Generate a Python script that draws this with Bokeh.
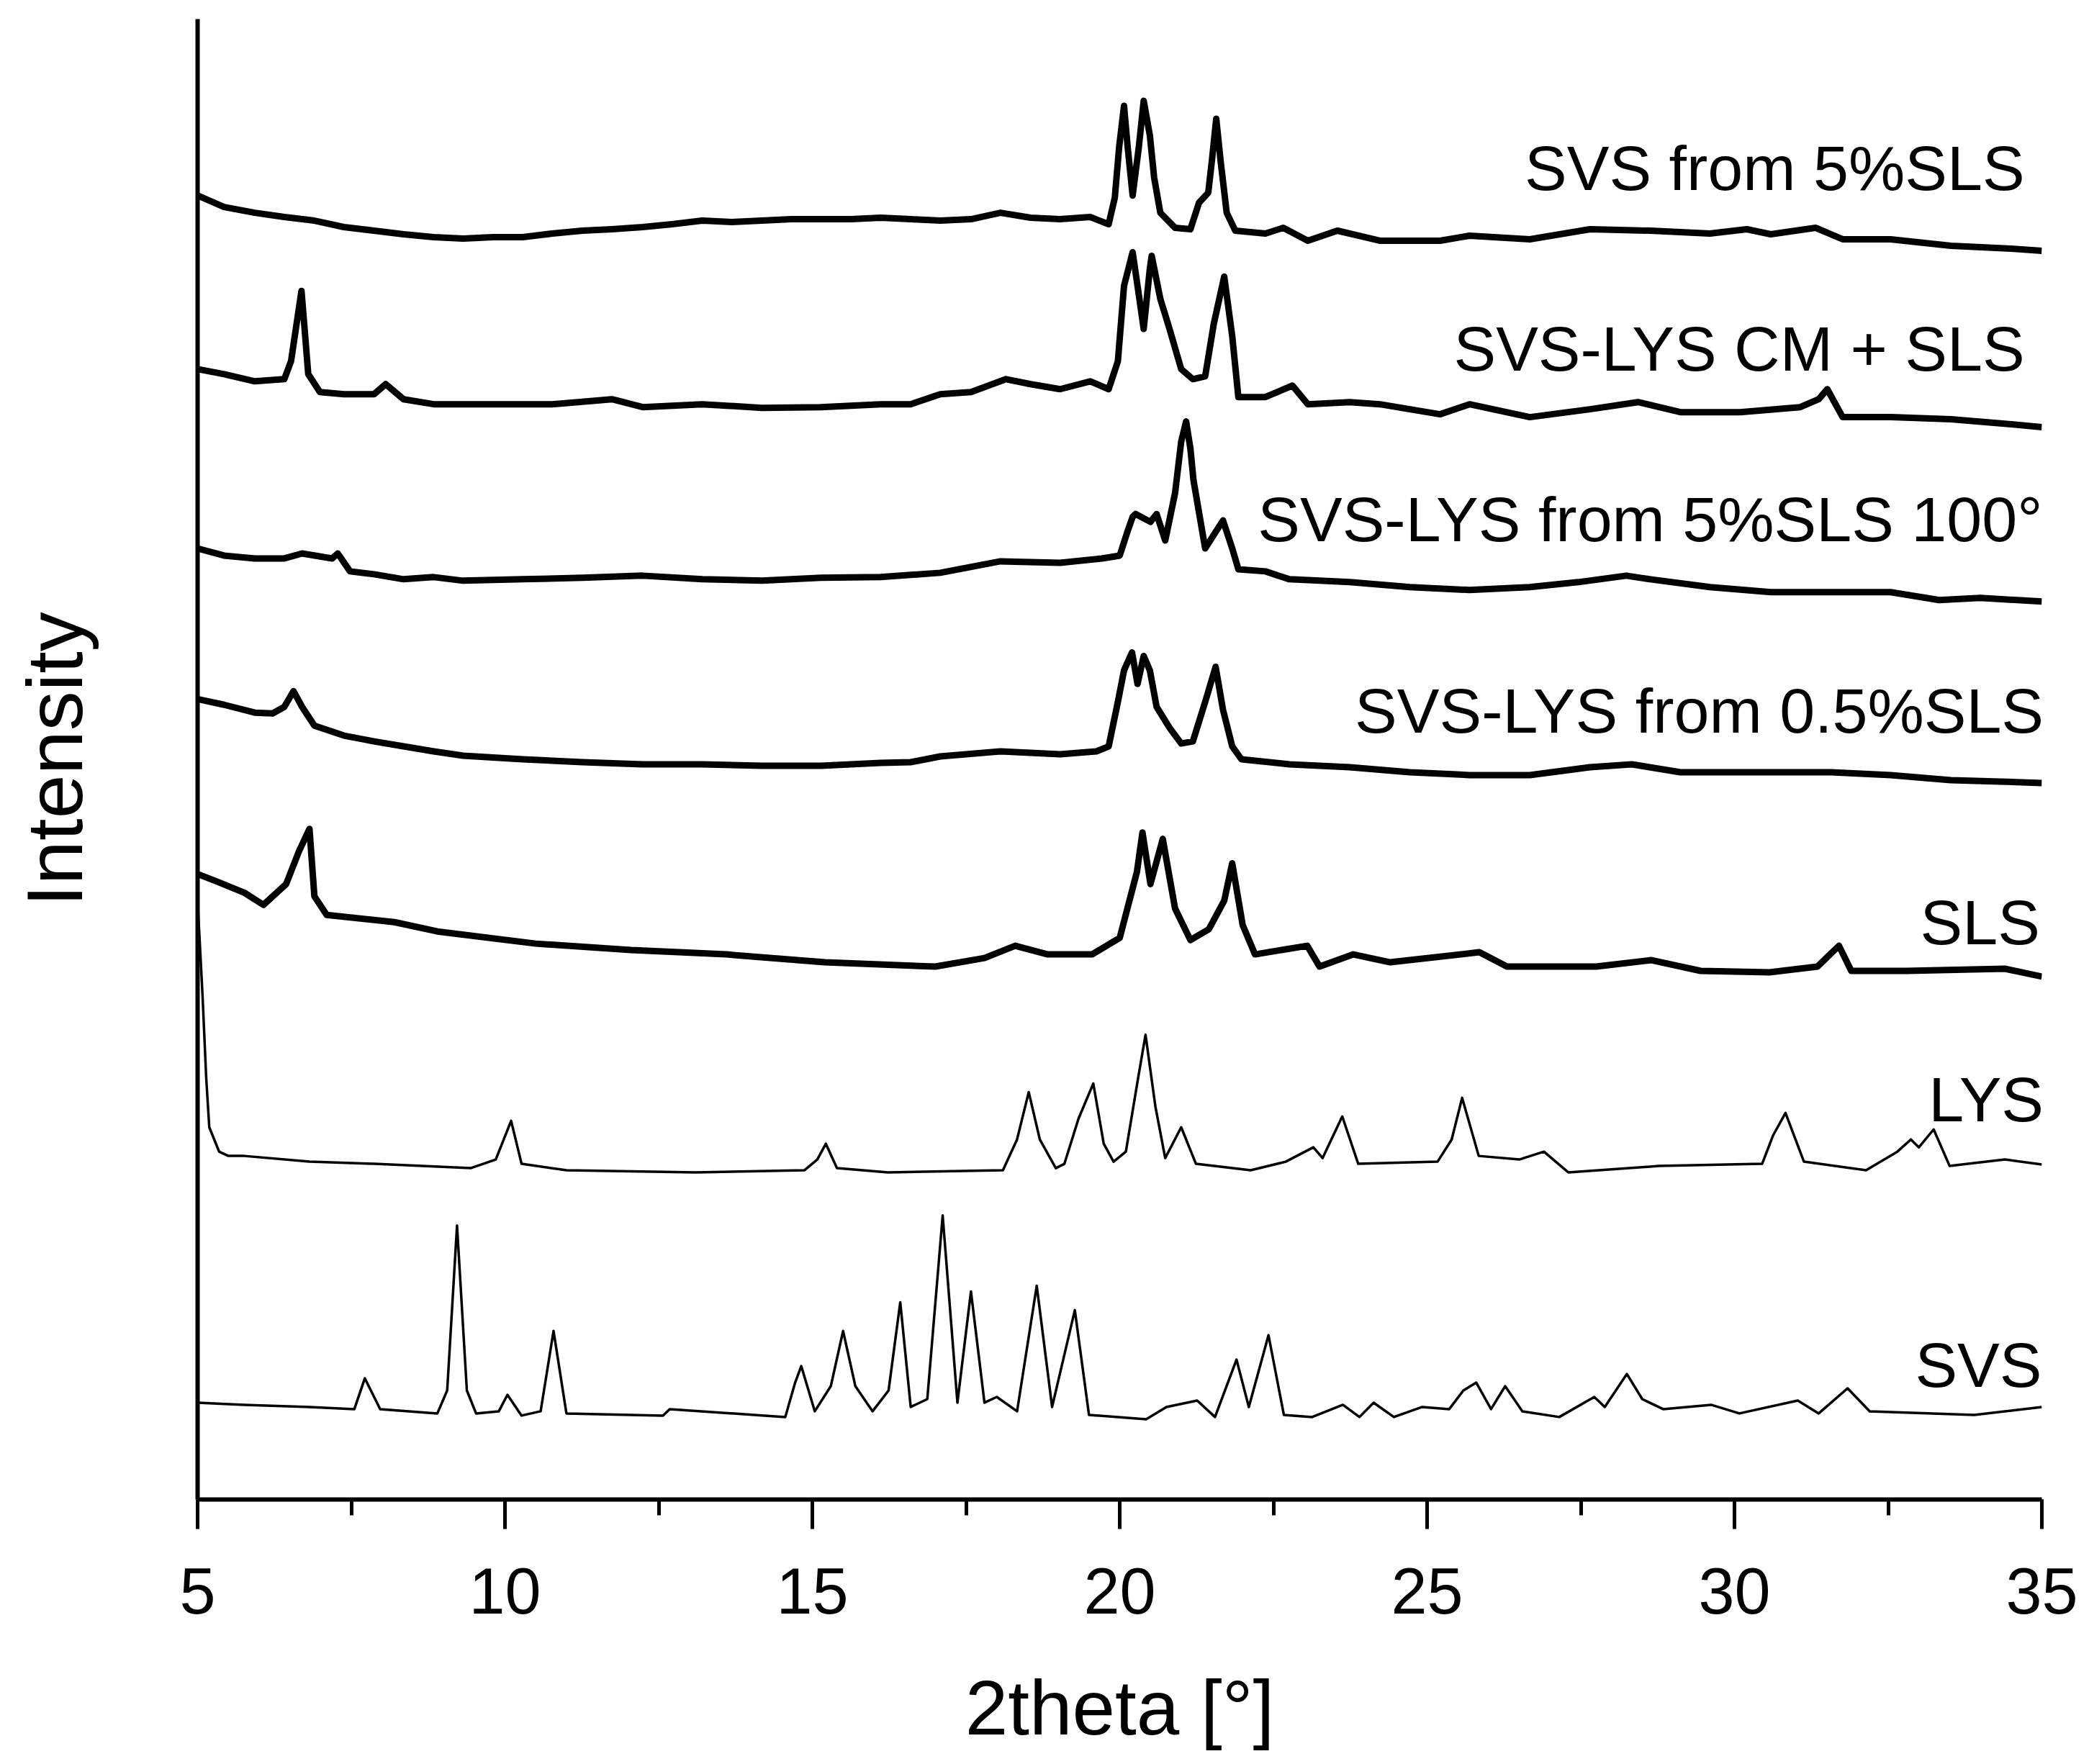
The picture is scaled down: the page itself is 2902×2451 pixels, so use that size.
from bokeh.plotting import figure
from bokeh.models import Range1d, SingleIntervalTicker, FixedTicker, Label
from bokeh.embed import file_html
from bokeh.resources import INLINE

# ---------------- data (2theta in degrees, intensity in arbitrary units, curves offset) ----------------
svs_5sls_x = [5.0, 5.43, 5.93, 6.41, 6.9, 7.38, 7.87, 8.35, 8.84, 9.32, 9.81, 10.29, 10.77, 11.26, 11.74,
              12.24, 12.72, 13.21, 13.69, 14.18, 14.66, 15.14, 15.63, 16.11, 16.6, 17.08, 17.58, 18.06,
              18.55, 19.03, 19.52, 19.82, 19.92, 19.99, 20.07, 20.13, 20.21, 20.31, 20.39, 20.49, 20.56,
              20.66, 20.9, 21.15, 21.29, 21.44, 21.5, 21.57, 21.64, 21.74, 21.88, 22.37, 22.66, 23.06,
              23.54, 24.23, 25.21, 25.69, 26.67, 27.65, 28.63, 29.6, 30.2, 30.59, 31.32, 31.76, 32.54,
              33.52, 34.5, 35.0]
svs_5sls_y = [1818, 1802, 1794, 1788, 1783, 1774, 1769, 1764, 1760, 1758, 1760, 1760, 1765, 1769, 1771,
              1774, 1778, 1783, 1781, 1783, 1785, 1785, 1785, 1787, 1785, 1783, 1785, 1794,
              1787, 1785, 1788, 1778, 1815, 1885, 1943, 1885, 1818, 1885, 1950, 1902, 1843,
              1794, 1773, 1771, 1808, 1822, 1867, 1925, 1867, 1794, 1769, 1765, 1773, 1755,
              1769, 1755, 1755, 1762, 1757, 1771, 1769, 1765, 1771, 1764, 1773, 1757, 1757,
              1748, 1744, 1741]

cm_sls_x = [5.0, 5.43, 5.93, 6.41, 6.52, 6.61, 6.69, 6.75, 6.8, 6.99, 7.38, 7.87, 8.06, 8.35, 8.84,
            9.81, 10.77, 11.74, 12.24, 13.21, 14.18, 15.14, 16.11, 16.6, 17.08, 17.58, 18.15, 18.55,
            19.03, 19.52, 19.82, 19.97, 20.07, 20.21, 20.32, 20.39, 20.49, 20.52, 20.66, 20.81, 21.0,
            21.19, 21.39, 21.53, 21.7, 21.83, 21.93, 22.37, 22.81, 23.06, 23.74, 24.23, 25.21, 25.69,
            26.67, 27.65, 28.43, 29.12, 30.09, 31.07, 31.37, 31.51, 31.76, 32.54, 33.52, 34.5, 35.0]
cm_sls_y = [1576, 1569, 1559, 1562, 1587, 1639, 1685, 1622, 1569, 1544, 1541, 1541, 1555, 1534, 1527,
            1527, 1527, 1534, 1523, 1527, 1522, 1523, 1527, 1527, 1541, 1544, 1562, 1555,
            1548, 1559, 1548, 1587, 1692, 1739, 1674, 1632, 1716, 1734, 1674, 1632, 1576,
            1562, 1566, 1639, 1705, 1622, 1537, 1537, 1553, 1527, 1530, 1527, 1513, 1527,
            1509, 1520, 1530, 1516, 1516, 1523, 1534, 1548, 1509, 1509, 1506, 1499, 1495]

lys_5sls100_x = [5.0, 5.43, 5.93, 6.41, 6.7, 7.19, 7.28, 7.48, 7.87, 8.35, 8.84, 9.32, 10.29, 11.26,
                 12.24, 13.21, 14.18, 15.14, 16.11, 17.08, 18.06, 19.03, 19.71, 20.0, 20.12, 20.21,
                 20.26, 20.5, 20.6, 20.74, 20.9, 21.0, 21.08, 21.15, 21.2, 21.39, 21.68, 21.83, 21.93,
                 22.37, 22.76, 23.74, 24.72, 25.69, 26.67, 27.46, 28.24, 28.63, 29.6, 30.59, 31.57,
                 32.54, 33.33, 34.0, 35.0]
lys_5sls100_y = [1326, 1316, 1312, 1312, 1319, 1312, 1319, 1294, 1290, 1283, 1286, 1281, 1283, 1285,
                 1288, 1283, 1281, 1285, 1286, 1292, 1308, 1306, 1312, 1316, 1348, 1370,
                 1374, 1363, 1374, 1337, 1403, 1475, 1503, 1465, 1421, 1326, 1365, 1326, 1297,
                 1294, 1283, 1279, 1272, 1268, 1272, 1279, 1288, 1283, 1272, 1265, 1265,
                 1265, 1254, 1257, 1252]

lys_05sls_x = [5.0, 5.43, 5.93, 6.22, 6.41, 6.56, 6.7, 6.9, 7.38, 7.87, 8.35, 8.84, 9.32, 10.29, 11.26,
               12.24, 13.21, 14.18, 15.14, 16.11, 16.6, 17.08, 18.06, 19.03, 19.62, 19.82, 19.97,
               20.07, 20.2, 20.29, 20.39, 20.49, 20.6, 20.81, 21.0, 21.19, 21.39, 21.56, 21.68, 21.83,
               21.98, 22.76, 23.74, 24.72, 25.69, 26.67, 27.65, 28.33, 29.12, 30.59, 31.57, 32.54,
               33.52, 35.0]
lys_05sls_y = [1116, 1108, 1097, 1096, 1105, 1127, 1105, 1079, 1065, 1057, 1050, 1043, 1037, 1032, 1028,
               1025, 1025, 1023, 1023, 1027, 1028, 1036, 1043, 1039, 1043, 1050, 1112,
               1156, 1181, 1137, 1176, 1156, 1105, 1076, 1054, 1057, 1112, 1161, 1101, 1050,
               1032, 1025, 1021, 1014, 1010, 1010, 1021, 1025, 1014, 1014, 1014, 1010,
               1003, 999]

sls_x = [5.0, 5.3, 5.76, 6.07, 6.44, 6.65, 6.82, 6.9, 7.1, 8.2, 8.9, 10.5, 12.05, 13.6, 15.2, 17.0,
         17.8, 18.3, 18.83, 19.55, 20.0, 20.28, 20.37, 20.5, 20.7, 20.9, 21.15, 21.45, 21.7, 21.83,
         22.0, 22.2, 23.05, 23.25, 23.8, 24.4, 25.85, 26.3, 27.75, 28.65, 29.45, 30.57, 31.35, 31.7,
         31.9, 32.8, 34.4, 35.0]
sls_y = [872, 862, 846, 829, 858, 904, 935, 841, 815, 805, 792, 775, 766, 760, 749, 743,
         755, 772, 760, 760, 783, 875, 930, 858, 921, 824, 780, 795, 835, 887,
         801, 760, 772, 743, 760, 749, 763, 743, 743, 752, 737, 735, 743, 772,
         737, 737, 740, 729]

lys_x = [5.0, 5.08, 5.14, 5.19, 5.35, 5.5, 5.76, 6.82, 7.87, 9.44, 9.85, 10.1, 10.27, 11.0, 13.1, 14.87,
         15.08, 15.22, 15.4, 16.23, 18.1, 18.33, 18.52, 18.7, 18.96, 19.1, 19.33, 19.57, 19.74, 19.9,
         20.1, 20.3, 20.42, 20.58, 20.74, 21.0, 21.24, 22.13, 22.7, 23.15, 23.3, 23.62, 23.88, 25.17,
         25.4, 25.57, 25.84, 26.5, 26.9, 27.3, 28.77, 30.45, 30.63, 30.83, 31.13, 32.14, 32.65, 32.87,
         33.0, 33.24, 33.5, 34.4, 35.0]
lys_y = [835, 703, 588, 519, 485, 479, 479, 471, 468, 462, 474, 528, 468, 459, 456, 459,
         474, 496, 462, 456, 459, 502, 568, 502, 462, 468, 531, 580, 496, 471,
         485, 588, 648, 548, 476, 519, 468, 459, 471, 491, 476, 534, 468, 471,
         502, 560, 479, 474, 485, 456, 465, 468, 508, 539, 471, 459, 485, 502,
         491, 516, 465, 474, 467]

svs_x = [5.0, 5.76, 6.82, 7.55, 7.72, 7.97, 8.9, 9.06, 9.22, 9.38, 9.53, 9.9, 10.04, 10.27, 10.58, 10.79,
         11.0, 12.57, 12.68, 14.56, 14.72, 14.82, 15.04, 15.3, 15.5, 15.7, 15.98, 16.24, 16.43, 16.6,
         16.87, 17.12, 17.36, 17.58, 17.8, 18.0, 18.33, 18.65, 18.9, 19.27, 19.5, 20.43, 20.76, 21.26,
         21.55, 21.9, 22.1, 22.42, 22.67, 23.13, 23.63, 23.9, 24.13, 24.46, 24.92, 25.36, 25.59, 25.8,
         26.04, 26.27, 26.55, 27.15, 27.72, 27.89, 28.25, 28.5, 28.84, 29.62, 30.08, 31.03, 31.37,
         31.84, 32.2, 33.9, 35.0]
svs_y = [135, 132, 129, 126, 169, 126, 120, 152, 382, 152, 120, 123, 146, 117, 123, 235,
         120, 117, 126, 115, 163, 186, 123, 158, 235, 158, 123, 152, 275, 129,
         140, 396, 135, 290, 135, 143, 123, 298, 129, 264, 118, 112, 129, 138,
         115, 195, 129, 229, 118, 115, 132, 115, 135, 115, 129, 126, 152, 163,
         126, 158, 123, 115, 143, 129, 175, 140, 126, 132, 120, 138, 120,
         155, 123, 118, 129]

series_names = ["SVS from 5%SLS", "SVS-LYS CM + SLS", "SVS-LYS from 5%SLS 100\u00b0",
                "SVS-LYS from 0.5%SLS", "SLS", "LYS", "SVS"]

# ---------------- figure ----------------
FONT = "Liberation Sans"
p = figure(width=2886, height=2435, output_backend="svg", toolbar_location=None,
           x_range=Range1d(5, 35), y_range=Range1d(0, 2064),
           min_border_left=274, min_border_right=50, min_border_top=26, min_border_bottom=345)
p.outline_line_color = None
p.grid.visible = False
p.background_fill_color = "white"
p.border_fill_color = "white"

xa = p.xaxis[0]
xa.ticker = SingleIntervalTicker(interval=5, num_minor_ticks=2)
xa.axis_line_width = 6
xa.axis_line_color = "black"
xa.major_tick_line_width = 5
xa.minor_tick_line_width = 5
xa.major_tick_out = 41
xa.major_tick_in = 0
xa.minor_tick_out = 22
xa.minor_tick_in = 0
xa.major_label_text_font = FONT
xa.major_label_text_font_size = "90px"
xa.major_label_text_color = "black"
xa.major_label_standoff = 54
xa.axis_label = "2theta [\u00b0]"
xa.axis_label_text_font = FONT
xa.axis_label_text_font_size = "107px"
xa.axis_label_text_font_style = "normal"
xa.axis_label_text_color = "black"
xa.axis_label_standoff = 68

ya = p.yaxis[0]
ya.ticker = FixedTicker(ticks=[])
ya.axis_line_width = 6
ya.axis_line_color = "black"
ya.major_tick_line_color = None
ya.minor_tick_line_color = None
ya.major_label_text_font_size = "0px"
ya.axis_label = "Intensity"
ya.axis_label_text_font = FONT
ya.axis_label_text_font_size = "110px"
ya.axis_label_text_font_style = "normal"
ya.axis_label_text_color = "black"
ya.axis_label_standoff = 138

curves = [(svs_5sls_x, svs_5sls_y, 9), (cm_sls_x, cm_sls_y, 9), (lys_5sls100_x, lys_5sls100_y, 9),
          (lys_05sls_x, lys_05sls_y, 9), (sls_x, sls_y, 9), (lys_x, lys_y, 3.5), (svs_x, svs_y, 3.5)]
for xs, ys, lw in curves:
    p.line(xs, ys, line_color="black", line_width=lw, line_join="round")

# series labels: (right edge x in data, baseline y in data)
label_pos = [(34.72, 1856), (34.72, 1604), (35.01, 1367), (35.03, 1100), (34.97, 805), (35.03, 558),
             (35.0, 188)]
for name, (lx, ly) in zip(series_names, label_pos):
    p.add_layout(Label(x=lx, y=ly, text=name, text_align="right", text_baseline="alphabetic",
                       text_font=FONT, text_font_size="88px", text_color="black"))

open("out.html", "w").write(file_html(p, INLINE))
